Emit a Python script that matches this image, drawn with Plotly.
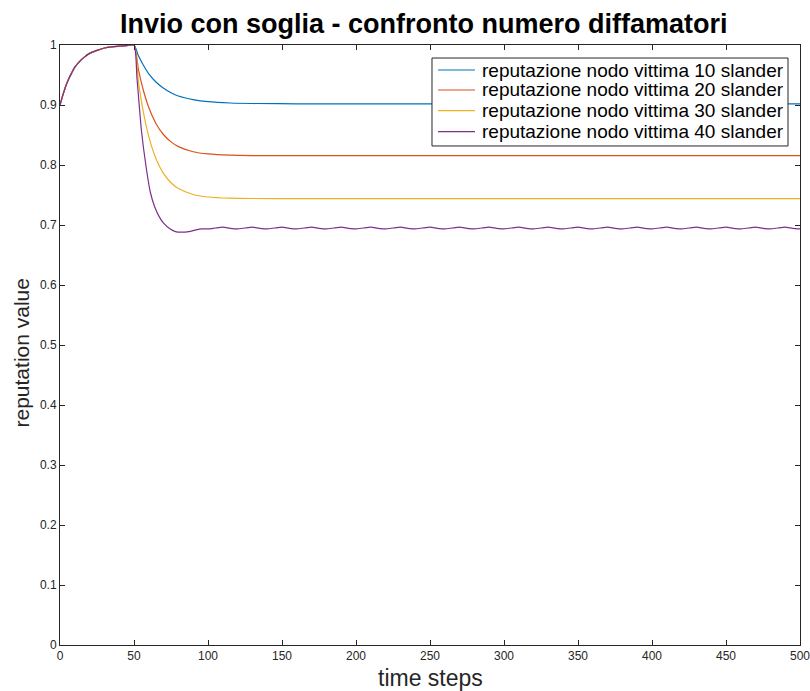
import plotly.graph_objects as go

# Common rise from 0.9 to 1.0 during the first 50 steps
t_rise = [0, 2, 4, 6, 8, 10, 13, 16, 20, 25, 30, 35, 40, 45, 50]
r_rise = [0.900, 0.917, 0.932, 0.944, 0.954, 0.963, 0.972, 0.979, 0.986,
          0.991, 0.995, 0.997, 0.998, 0.999, 1.000]

# Decay after the slander starts (step 50)
t_decay = [53, 56, 60, 65, 70, 75, 80, 90, 100, 115, 130, 160, 500]
rep_10 = [0.982, 0.968, 0.952, 0.938, 0.928, 0.9205, 0.915, 0.909, 0.9055,
          0.9033, 0.9025, 0.902, 0.902]
rep_20 = [0.959, 0.9275, 0.8957, 0.8684, 0.8504, 0.8385, 0.8306, 0.8221,
          0.8184, 0.8163, 0.8157, 0.8155, 0.8155]
rep_30 = [0.9388, 0.8925, 0.8472, 0.8095, 0.7855, 0.7704, 0.7607, 0.7508,
          0.7467, 0.7447, 0.7442, 0.744, 0.744]

# 40 slanderers: steeper drop, slight undershoot, then small oscillation
t_40 = [52, 55, 58, 61, 64, 67, 70, 74, 78, 82, 87, 92, 96,
        100, 105, 110, 115, 120, 125, 130, 135, 140, 145, 150, 155,
        160, 165, 170, 175, 180, 185, 190, 195, 200, 205, 210, 215,
        220, 225, 230, 235, 240, 245, 250, 255, 260, 265, 270, 275,
        280, 285, 290, 295, 300, 305, 310, 315, 320, 325, 330, 335,
        340, 345, 350, 355, 360, 365, 370, 375, 380, 385, 390, 395,
        400, 405, 410, 415, 420, 425, 430, 435, 440, 445, 450, 455,
        460, 465, 470, 475, 480, 485, 490, 495, 500]
rep_40 = [0.945, 0.858, 0.800, 0.755, 0.730, 0.714, 0.703, 0.694, 0.689,
          0.688, 0.689, 0.692, 0.6935,
          0.6935, 0.6950, 0.6963, 0.6945, 0.6935, 0.6950, 0.6963, 0.6945,
          0.6935, 0.6950, 0.6963, 0.6945, 0.6935, 0.6950, 0.6963, 0.6945,
          0.6935, 0.6950, 0.6963, 0.6945, 0.6935, 0.6950, 0.6963, 0.6945,
          0.6935, 0.6950, 0.6963, 0.6945, 0.6935, 0.6950, 0.6963, 0.6945,
          0.6935, 0.6950, 0.6963, 0.6945, 0.6935, 0.6950, 0.6963, 0.6945,
          0.6935, 0.6950, 0.6963, 0.6945, 0.6935, 0.6950, 0.6963, 0.6945,
          0.6935, 0.6950, 0.6963, 0.6945, 0.6935, 0.6950, 0.6963, 0.6945,
          0.6935, 0.6950, 0.6963, 0.6945, 0.6935, 0.6950, 0.6963, 0.6945,
          0.6935, 0.6950, 0.6963, 0.6945, 0.6935, 0.6950, 0.6963, 0.6945,
          0.6935, 0.6950, 0.6963, 0.6945, 0.6935, 0.6950, 0.6963, 0.6945,
          0.6935]

names = ["reputazione nodo vittima 10 slander",
         "reputazione nodo vittima 20 slander",
         "reputazione nodo vittima 30 slander",
         "reputazione nodo vittima 40 slander"]
colors = ["#0072BD", "#D95319", "#EDB120", "#7E2F8E"]

x_ticks = [0, 50, 100, 150, 200, 250, 300, 350, 400, 450, 500]
y_ticks = [0, 0.1, 0.2, 0.3, 0.4, 0.5, 0.6, 0.7, 0.8, 0.9, 1]
y_tick_text = ["0", "0.1", "0.2", "0.3", "0.4", "0.5", "0.6", "0.7", "0.8", "0.9", "1"]

FONT = "Liberation Sans, Arial, Helvetica"

series = [
    (t_rise + t_decay, r_rise + rep_10),
    (t_rise + t_decay, r_rise + rep_20),
    (t_rise + t_decay, r_rise + rep_30),
    (t_rise + t_40, r_rise + rep_40),
]

fig = go.Figure()
for (xs, ys), name, col in zip(series, names, colors):
    fig.add_trace(go.Scatter(x=xs, y=ys, mode="lines", name=name, showlegend=False,
                             line=dict(color=col, width=1.2, shape="spline", smoothing=0.6)))

axis_style = dict(showline=True, linecolor="#262626", linewidth=1, mirror="ticks",
                  ticks="inside", ticklen=5, tickcolor="#262626", showgrid=False,
                  zeroline=False, automargin=False, ticklabeloverflow="allow",
                  tickfont=dict(family=FONT, size=12, color="#262626"))

# Boxed legend in the upper right of the axes (paper coordinates)
leg_box = dict(x0=0.5027, x1=0.9838, y0=0.8317, y1=0.9783)
leg_rows = [0.9583, 0.9250, 0.8905, 0.8555]
leg_line_x = (0.5108, 0.5608)
leg_text_x = 0.5676

shapes = [dict(type="rect", xref="paper", yref="paper", layer="above",
               fillcolor="white", line=dict(color="#262626", width=1), **leg_box)]
annotations = []
for yrow, name, col in zip(leg_rows, names, colors):
    shapes.append(dict(type="line", xref="paper", yref="paper", layer="above",
                       x0=leg_line_x[0], x1=leg_line_x[1], y0=yrow, y1=yrow,
                       line=dict(color=col, width=1.2)))
    annotations.append(dict(text=name, xref="paper", yref="paper", x=leg_text_x, y=yrow,
                            xanchor="left", yanchor="middle", showarrow=False,
                            font=dict(family=FONT, size=19, color="#000000")))

annotations += [
    dict(text="<b>Invio con soglia - confronto numero diffamatori</b>",
         xref="paper", yref="paper", x=0.5, y=1, yanchor="bottom", yshift=4, xshift=-6,
         showarrow=False, font=dict(family=FONT, size=27, color="#000000")),
    dict(text="time steps", xref="paper", yref="paper", x=0.5, y=0,
         yanchor="top", yshift=-18, showarrow=False,
         font=dict(family=FONT, size=23, color="#262626")),
    dict(text="reputation value", xref="paper", yref="paper", x=0, y=0.5,
         xanchor="right", xshift=-26, yshift=-8, textangle=-90, showarrow=False,
         font=dict(family=FONT, size=21, color="#262626")),
]

fig.update_layout(
    width=810, height=691,
    margin=dict(l=60, r=10, t=45, b=46),
    paper_bgcolor="white", plot_bgcolor="white",
    font=dict(family=FONT, color="#000000"),
    xaxis=dict(range=[0, 500], tickvals=x_ticks, **axis_style),
    yaxis=dict(range=[0, 1], tickvals=y_ticks, ticktext=y_tick_text, **axis_style),
    showlegend=False,
    shapes=shapes,
    annotations=annotations,
)

fig.write_html("out.html")
